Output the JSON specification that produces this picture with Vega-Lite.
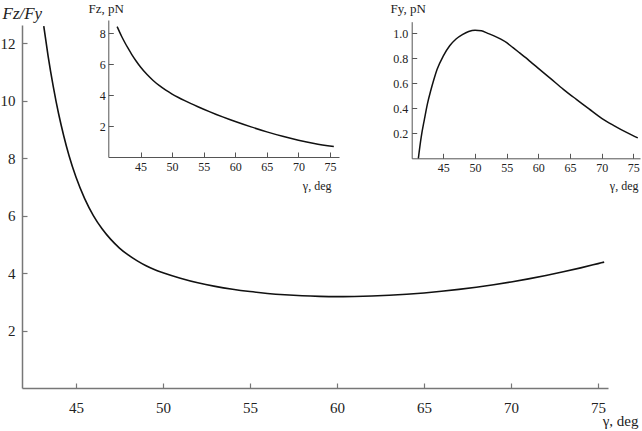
{
  "$schema": "https://vega.github.io/schema/vega-lite/v6.json",
  "width": 586,
  "height": 363,
  "autosize": "none",
  "padding": {"left": 22, "top": 25, "right": 34, "bottom": 43},
  "background": "white",
  "config": {
    "view": {"stroke": null},
    "font": "Liberation Serif, serif",
    "axis": {
      "grid": false,
      "labelFont": "Liberation Serif, serif",
      "titleFont": "Liberation Serif, serif",
      "domainColor": "#777777",
      "tickColor": "#777777",
      "labelColor": "#222222",
      "titleColor": "#222222",
      "titleFontWeight": "normal",
      "labelFlush": false,
      "labelOverlap": false
    }
  },
  "datasets": {
    "ratio": [
      {"gamma": 43.15, "v": 12.59}, {"gamma": 43.4, "v": 11.55}, {"gamma": 43.7, "v": 10.48},
      {"gamma": 44.0, "v": 9.55}, {"gamma": 44.3, "v": 8.77}, {"gamma": 44.6, "v": 8.09},
      {"gamma": 45.0, "v": 7.34}, {"gamma": 45.5, "v": 6.59}, {"gamma": 46.0, "v": 6.0},
      {"gamma": 46.5, "v": 5.54}, {"gamma": 47.0, "v": 5.17}, {"gamma": 47.5, "v": 4.87},
      {"gamma": 48.0, "v": 4.63}, {"gamma": 48.5, "v": 4.43}, {"gamma": 49.0, "v": 4.26},
      {"gamma": 49.5, "v": 4.12}, {"gamma": 50.0, "v": 4.01}, {"gamma": 51.0, "v": 3.82},
      {"gamma": 52.0, "v": 3.66}, {"gamma": 53.0, "v": 3.535}, {"gamma": 54.0, "v": 3.435},
      {"gamma": 55.0, "v": 3.355}, {"gamma": 56.0, "v": 3.29}, {"gamma": 57.0, "v": 3.242},
      {"gamma": 58.0, "v": 3.208}, {"gamma": 59.0, "v": 3.188}, {"gamma": 60.0, "v": 3.18},
      {"gamma": 61.0, "v": 3.185}, {"gamma": 62.0, "v": 3.2}, {"gamma": 63.0, "v": 3.226},
      {"gamma": 64.0, "v": 3.262}, {"gamma": 65.0, "v": 3.308}, {"gamma": 66.0, "v": 3.364},
      {"gamma": 67.0, "v": 3.43}, {"gamma": 68.0, "v": 3.506}, {"gamma": 69.0, "v": 3.593},
      {"gamma": 70.0, "v": 3.69}, {"gamma": 71.0, "v": 3.797}, {"gamma": 72.0, "v": 3.914},
      {"gamma": 73.0, "v": 4.042}, {"gamma": 74.0, "v": 4.18}, {"gamma": 75.0, "v": 4.328},
      {"gamma": 75.35, "v": 4.38}
    ],
    "fz": [
      {"gamma": 41.3, "v": 8.43}, {"gamma": 42.0, "v": 7.81}, {"gamma": 42.6, "v": 7.34},
      {"gamma": 43.0, "v": 7.05}, {"gamma": 43.6, "v": 6.64}, {"gamma": 44.3, "v": 6.21},
      {"gamma": 45.0, "v": 5.82}, {"gamma": 46.0, "v": 5.35}, {"gamma": 47.0, "v": 4.95},
      {"gamma": 48.0, "v": 4.61}, {"gamma": 49.0, "v": 4.32}, {"gamma": 50.0, "v": 4.07},
      {"gamma": 51.0, "v": 3.85}, {"gamma": 52.0, "v": 3.645}, {"gamma": 53.0, "v": 3.45},
      {"gamma": 54.0, "v": 3.265}, {"gamma": 55.0, "v": 3.087}, {"gamma": 56.0, "v": 2.916},
      {"gamma": 57.0, "v": 2.751}, {"gamma": 58.0, "v": 2.592}, {"gamma": 59.0, "v": 2.439},
      {"gamma": 60.0, "v": 2.291}, {"gamma": 62.5, "v": 1.946}, {"gamma": 65.0, "v": 1.626},
      {"gamma": 67.5, "v": 1.338}, {"gamma": 70.0, "v": 1.088}, {"gamma": 72.5, "v": 0.875},
      {"gamma": 75.6, "v": 0.673}
    ],
    "fy": [
      {"gamma": 41.05, "v": 0.0}, {"gamma": 41.5, "v": 0.17}, {"gamma": 42.0, "v": 0.31},
      {"gamma": 42.5, "v": 0.44}, {"gamma": 43.0, "v": 0.54}, {"gamma": 43.5, "v": 0.63},
      {"gamma": 44.0, "v": 0.71}, {"gamma": 45.0, "v": 0.82}, {"gamma": 46.0, "v": 0.9},
      {"gamma": 47.0, "v": 0.955}, {"gamma": 48.0, "v": 0.99}, {"gamma": 49.0, "v": 1.015},
      {"gamma": 50.0, "v": 1.025}, {"gamma": 51.0, "v": 1.02}, {"gamma": 52.0, "v": 1.0},
      {"gamma": 53.0, "v": 0.98}, {"gamma": 54.0, "v": 0.955}, {"gamma": 55.0, "v": 0.925},
      {"gamma": 56.0, "v": 0.885}, {"gamma": 57.0, "v": 0.845}, {"gamma": 58.0, "v": 0.805},
      {"gamma": 59.0, "v": 0.762}, {"gamma": 60.0, "v": 0.72}, {"gamma": 62.0, "v": 0.635},
      {"gamma": 64.0, "v": 0.55}, {"gamma": 65.0, "v": 0.51}, {"gamma": 66.0, "v": 0.472},
      {"gamma": 68.0, "v": 0.395}, {"gamma": 70.0, "v": 0.32}, {"gamma": 72.0, "v": 0.26},
      {"gamma": 74.0, "v": 0.205}, {"gamma": 75.7, "v": 0.163}
    ]
  },
  "layer": [
    {
      "data": {"name": "ratio"},
      "mark": {"type": "line", "color": "#111111", "strokeWidth": 1.6, "interpolate": "monotone"},
      "encoding": {
        "x": {
          "field": "gamma", "type": "quantitative",
          "scale": {"domain": [41.9, 75.57], "nice": false, "zero": false},
          "axis": {
            "orient": "bottom", "values": [45, 50, 55, 60, 65, 70, 75],
            "tickSize": -5, "labelPadding": 17, "labelFontSize": 15,
            "labelFont": "Liberation Serif, serif", "titleFont": "Liberation Serif, serif",
            "domainWidth": 1.5, "tickWidth": 1.2,
            "title": "γ, deg", "titleFontSize": 15, "titleX": 616, "titleY": 37,
            "titleAlign": "right", "titleBaseline": "alphabetic", "titleAnchor": null
          }
        },
        "y": {
          "field": "v", "type": "quantitative",
          "scale": {"domain": [0, 12.63], "nice": false, "zero": false},
          "axis": {
            "orient": "left", "values": [2, 4, 6, 8, 10, 12],
            "tickSize": -5, "labelPadding": 12, "labelFontSize": 15,
            "labelFont": "Liberation Serif, serif", "titleFont": "Liberation Serif, serif",
            "domainWidth": 1.5, "tickWidth": 1.2,
            "title": "Fz/Fy", "titleAngle": 0, "titleX": -20, "titleY": -7,
            "titleAlign": "left", "titleBaseline": "alphabetic", "titleAnchor": null,
            "titleFontStyle": "italic", "titleFontSize": 17
          }
        }
      }
    },
    {
      "data": {"name": "fz"},
      "mark": {"type": "line", "color": "#111111", "strokeWidth": 1.5, "interpolate": "monotone"},
      "encoding": {
        "x": {
          "field": "gamma", "type": "quantitative",
          "scale": {"domain": [39.9, 76.42], "range": [86.3, 317], "nice": false, "zero": false},
          "axis": {
            "orient": "bottom", "offset": -231, "values": [45, 50, 55, 60, 65, 70, 75],
            "tickSize": -5, "labelPadding": 9, "labelFontSize": 12,
            "labelFont": "Liberation Serif, serif", "titleFont": "Liberation Serif, serif",
            "domainColor": "#555555", "tickColor": "#555555",
            "title": "γ, deg", "titleFontSize": 12, "titleX": 309, "titleY": 32,
            "titleAlign": "right", "titleBaseline": "alphabetic", "titleAnchor": null
          }
        },
        "y": {
          "field": "v", "type": "quantitative",
          "scale": {"domain": [0, 8.86], "range": [132, -5], "nice": false, "zero": false},
          "axis": {
            "orient": "left", "offset": -86.3, "values": [2, 4, 6, 8],
            "tickSize": -5, "labelPadding": 8, "labelFontSize": 12,
            "labelFont": "Liberation Serif, serif", "titleFont": "Liberation Serif, serif",
            "domainColor": "#555555", "tickColor": "#555555",
            "title": "Fz, pN", "titleAngle": 0, "titleX": -20.3, "titleY": -13,
            "titleAlign": "left", "titleBaseline": "alphabetic", "titleAnchor": null,
            "titleFontSize": 13
          }
        }
      }
    },
    {
      "data": {"name": "fy"},
      "mark": {"type": "line", "color": "#111111", "strokeWidth": 1.5, "interpolate": "monotone"},
      "encoding": {
        "x": {
          "field": "gamma", "type": "quantitative",
          "scale": {"domain": [40, 76.05], "range": [389.7, 618], "nice": false, "zero": false},
          "axis": {
            "orient": "bottom", "offset": -229.7, "values": [45, 50, 55, 60, 65, 70, 75],
            "tickSize": -5, "labelPadding": 9, "labelFontSize": 12,
            "labelFont": "Liberation Serif, serif", "titleFont": "Liberation Serif, serif",
            "domainColor": "#555555", "tickColor": "#555555",
            "title": "γ, deg", "titleFontSize": 12, "titleX": 616, "titleY": 31,
            "titleAlign": "right", "titleBaseline": "alphabetic", "titleAnchor": null
          }
        },
        "y": {
          "field": "v", "type": "quantitative",
          "scale": {"domain": [0, 1.093], "range": [133.3, -3.3], "nice": false, "zero": false},
          "axis": {
            "orient": "left", "offset": -389.7, "values": [0.2, 0.4, 0.6, 0.8, 1.0], "format": ".1f",
            "tickSize": -5, "labelPadding": 9, "labelFontSize": 12,
            "labelFont": "Liberation Serif, serif", "titleFont": "Liberation Serif, serif",
            "domainColor": "#555555", "tickColor": "#555555",
            "title": "Fy, pN", "titleAngle": 0, "titleX": -21.7, "titleY": -13,
            "titleAlign": "left", "titleBaseline": "alphabetic", "titleAnchor": null,
            "titleFontSize": 13
          }
        }
      }
    }
  ],
  "resolve": {
    "scale": {"x": "independent", "y": "independent"},
    "axis": {"x": "independent", "y": "independent"}
  }
}
